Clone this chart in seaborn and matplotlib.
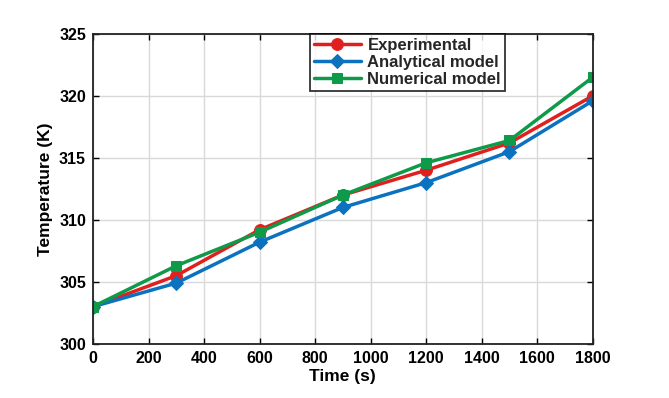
import matplotlib
matplotlib.use("Agg")
import matplotlib.pyplot as plt
import seaborn as sns
import pandas as pd

time_s = [0, 300, 600, 900, 1200, 1500, 1800]
experimental = [303.0, 305.5, 309.2, 312.0, 314.0, 316.2, 320.0]
analytical = [303.0, 304.9, 308.2, 311.0, 313.0, 315.5, 319.6]
numerical = [303.0, 306.3, 309.0, 312.0, 314.6, 316.4, 321.5]
series_names = ["Experimental", "Analytical model", "Numerical model"]

df = pd.DataFrame({
    "Time": time_s * 3,
    "Temp": experimental + analytical + numerical,
    "Series": [series_names[0]] * 7 + [series_names[1]] * 7 + [series_names[2]] * 7,
})

sns.set_theme(style="white")
plt.rcParams["font.family"] = ["Liberation Sans", "DejaVu Sans"]
plt.rcParams["font.weight"] = "bold"

fig = plt.figure(figsize=(6.69, 3.98), dpi=100)
ax = fig.add_axes([0.139, 0.136, 0.747, 0.779])

palette = {"Experimental": "#e0201e", "Analytical model": "#0b72c0", "Numerical model": "#0f9a4a"}
markers = {"Experimental": "o", "Analytical model": "D", "Numerical model": "s"}
sizes = {"Experimental": 8.5, "Analytical model": 7.5, "Numerical model": 7.5}

for name in series_names:
    sub = df[df["Series"] == name]
    sns.lineplot(data=sub, x="Time", y="Temp", color=palette[name], marker=markers[name],
                 markersize=sizes[name], markeredgecolor=palette[name], linewidth=2.5,
                 label=name, ax=ax)

ax.set_xlim(0, 1800)
ax.set_ylim(300, 325)
ax.set_xticks(range(0, 1801, 200))
ax.set_yticks(range(300, 326, 5))
ax.grid(True, color="#d9d9d9", linewidth=1)
for s in ax.spines.values():
    s.set_color("#222222")
    s.set_linewidth(1.3)
ax.tick_params(direction="in", length=4, width=1, labelsize=11.5, colors="black",
               top=True, right=True, bottom=True, left=True, pad=5)
for lab in ax.get_xticklabels() + ax.get_yticklabels():
    lab.set_fontweight("bold")
ax.set_xlabel("Time (s)", fontsize=12.5, fontweight="bold", color="black", labelpad=2)
ax.set_ylabel("Temperature (K)", fontsize=12.5, fontweight="bold", color="black", labelpad=4)

leg = ax.legend(loc="upper left", bbox_to_anchor=(0.434, 1.0), frameon=True, fancybox=False,
                edgecolor="black", prop={"weight": "bold", "size": 12},
                handlelength=2.8, borderpad=0.25, labelspacing=0.12, handletextpad=0.4,
                borderaxespad=0.0)
leg.get_frame().set_linewidth(1.3)

fig.savefig("out.png", dpi=100)
